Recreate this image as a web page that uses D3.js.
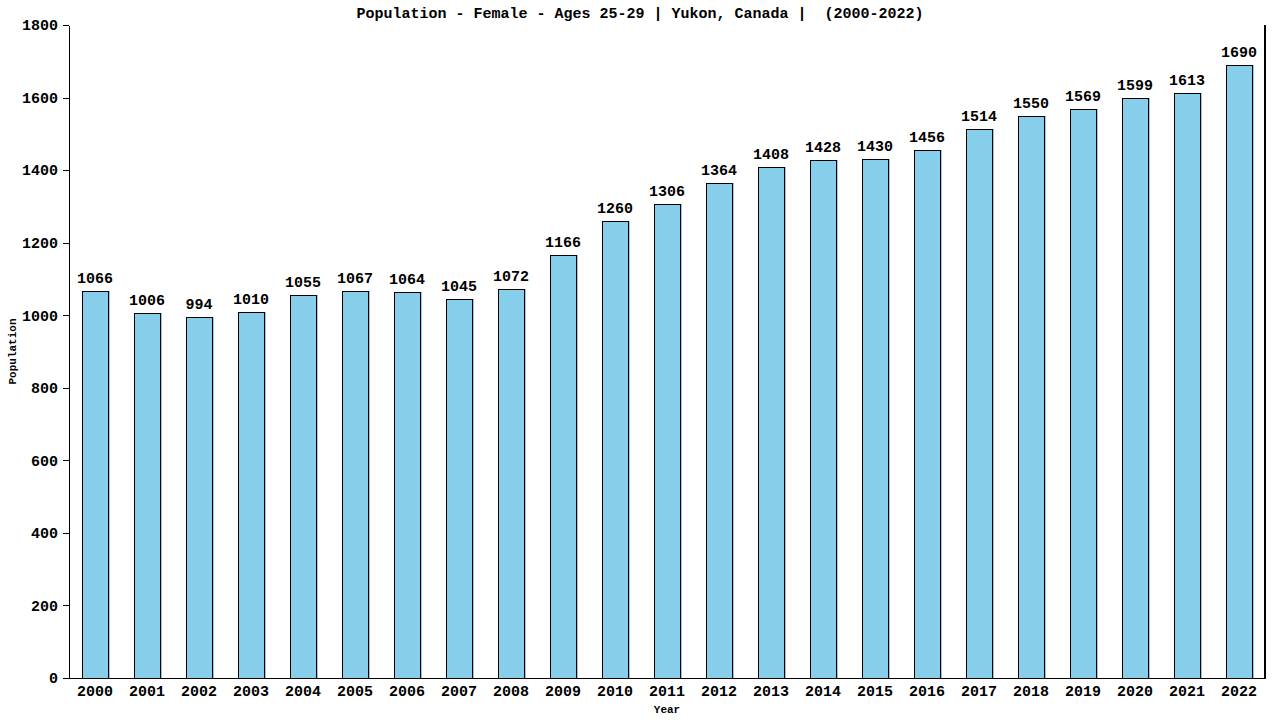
<!DOCTYPE html>
<html>
<head>
<meta charset="utf-8">
<script src="https://cdn.jsdelivr.net/npm/d3@7"></script>
<style>
  body { margin: 0; background: #fff; }
  text { font-family: "Liberation Mono", "DejaVu Sans Mono", monospace; fill: #000; }
</style>
</head>
<body>
<script>
'use strict';

var years = ['2000', '2001', '2002', '2003', '2004', '2005', '2006', '2007', '2008', '2009', '2010', '2011',
  '2012', '2013', '2014', '2015', '2016', '2017', '2018', '2019', '2020', '2021', '2022'];
var population = [1066, 1006, 994, 1010, 1055, 1067, 1064, 1045, 1072, 1166, 1260, 1306,
  1364, 1408, 1428, 1430, 1456, 1514, 1550, 1569, 1599, 1613, 1690];
var yTicks = [0, 200, 400, 600, 800, 1000, 1200, 1400, 1600, 1800];

var W = 1280, H = 720;
var margin = {top: 25, right: 15, bottom: 42, left: 69};
var w = W - margin.left - margin.right;
var h = H - margin.top - margin.bottom;
var fs = '15px';

var svg = d3.select('body').append('svg')
  .attr('width', W)
  .attr('height', H)
  .style('shape-rendering', 'crispEdges');

var g = svg.append('g').attr('transform', 'translate(' + margin.left + ',' + margin.top + ')');

var x = d3.scaleBand().domain(years).range([0, w]).paddingInner(0.5).paddingOuter(0.25);
var y = d3.scaleLinear().domain([0, 1800]).range([h, 0]);

// bars: fill sits a pixel wider than the outline
g.selectAll('rect.fill').data(population).enter().append('rect')
  .attr('class', 'fill')
  .attr('x', function (d, i) { return x(years[i]); })
  .attr('y', function (d) { return y(d); })
  .attr('width', x.bandwidth() + 1.5)
  .attr('height', function (d) { return h - y(d); })
  .style('fill', '#87ceeb');

g.selectAll('rect.bar').data(population).enter().append('rect')
  .attr('class', 'bar')
  .attr('x', function (d, i) { return x(years[i]) + 0.5; })
  .attr('y', function (d) { return y(d) + 0.5; })
  .attr('width', x.bandwidth())
  .attr('height', function (d) { return h - y(d); })
  .style('fill', 'none')
  .style('stroke', '#000')
  .style('stroke-width', 1);

g.selectAll('text.val').data(population).enter().append('text')
  .attr('class', 'val')
  .attr('x', function (d, i) { return x(years[i]) + x.bandwidth() / 2; })
  .attr('y', function (d) { return y(d) - 8; })
  .attr('text-anchor', 'middle')
  .style('font-size', fs)
  .style('font-weight', 'bold')
  .text(function (d) { return d; });

// axes
var yAxis = g.append('g').call(d3.axisLeft(y).tickValues(yTicks).tickFormat(d3.format('d')).tickSize(6).tickSizeOuter(0));
yAxis.selectAll('text').style('font-size', fs).style('font-weight', 'bold').attr('x', -11);
yAxis.select('.domain').attr('stroke-width', 1.5);

var xAxis = g.append('g').attr('transform', 'translate(0,' + h + ')')
  .call(d3.axisBottom(x).tickSize(0).tickSizeOuter(0));
xAxis.selectAll('text').style('font-size', fs).style('font-weight', 'bold').attr('y', 7);
xAxis.select('.domain').attr('stroke-width', 1.5);

g.append('line')
  .attr('x1', w).attr('x2', w).attr('y1', 0).attr('y2', h)
  .style('stroke', '#000').style('stroke-width', 1.5);

// titles
svg.append('text')
  .attr('x', W / 2).attr('y', 18)
  .attr('text-anchor', 'middle')
  .style('font-size', fs)
  .style('font-weight', 'bold')
  .style('white-space', 'pre')
  .text('Population - Female - Ages 25-29 | Yukon, Canada |  (2000-2022)');

svg.append('text')
  .attr('x', margin.left + w / 2).attr('y', 713)
  .attr('text-anchor', 'middle')
  .style('font-size', '11px')
  .style('font-weight', 'bold')
  .text('Year');

svg.append('text')
  .attr('transform', 'translate(16,' + (margin.top + h / 2) + ') rotate(-90)')
  .attr('text-anchor', 'middle')
  .style('font-size', '11px')
  .style('font-weight', 'bold')
  .text('Population');
</script>
</body>
</html>
